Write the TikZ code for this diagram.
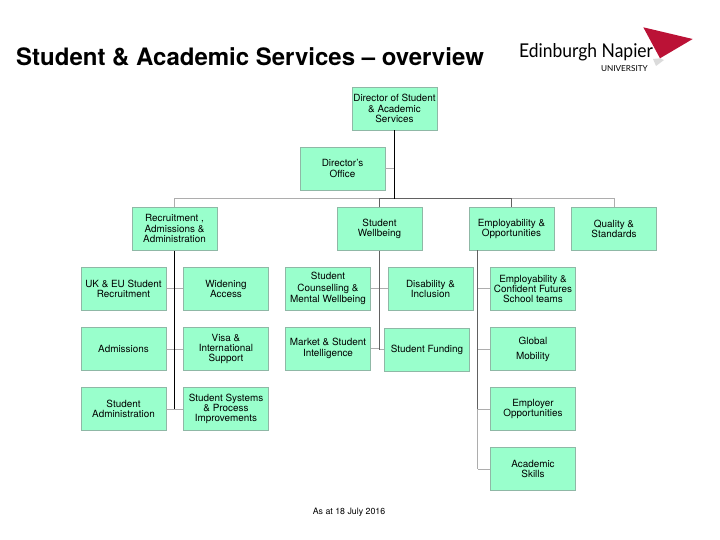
\documentclass[tikz,border=0pt]{standalone}
\usepackage{fontspec}
\setmainfont{TeX Gyre Heros}
\newfontfamily\logofont{Lato}
\definecolor{boxfill}{HTML}{99FFCC}
\definecolor{boxline}{HTML}{8FB8A6}
\definecolor{logored}{HTML}{BB1236}
\tikzset{
  box/.style={draw=boxline,fill=boxfill,line width=.6pt,minimum width=85pt,minimum height=43pt,
    inner sep=0pt,align=center,font=\fontsize{9.9}{10.3}\selectfont},
  thin link/.style={draw=black!32,line width=.8pt},
  mid link/.style={draw=black!62,line width=.8pt},
  dark link/.style={draw=black,line width=.8pt}
}
\begin{document}
\begin{tikzpicture}[x=1pt,y=-1pt]
    \useasboundingbox (0,0) rectangle (720,540);
    \node[anchor=base west,inner sep=0pt,font=\bfseries\fontsize{24}{26}\selectfont] (title) at (16,66) {Student \& Academic Services -- overview};
    % logo
    \node[anchor=base west,inner sep=0pt,xscale=.92,font=\logofont\fontsize{19}{22}\selectfont] (logoname) at (519,57.7) {Edinburgh Napier};
    \node[anchor=base east,inner sep=0pt,font=\logofont\fontsize{8.2}{9}\selectfont] (logouni) at (648,71.5) {UNIVERSITY};
    \fill[black!14] (653,59) -- (660,58.3) -- (664,60) -- (656,66) -- cycle;
    \fill[logored] (643.3,27.3) -- (692.7,39) -- (660,58.3) -- cycle;
    % boxes
    \node[box] (dir) at (394.5,108.5) {Director of Student\\\& Academic\\Services};
    \node[box] (office) at (342.5,168.5) {Director's\\Office};
    \node[box] (rec) at (174.5,228.7) {Recruitment ,\\Admissions \&\\Administration};
    \node[box] (well) at (379.5,228.7) {Student\\Wellbeing};
    \node[box] (emp) at (511.5,228.7) {Employability \&\\Opportunities};
    \node[box] (qual) at (614,228.7) {Quality \&\\Standards};
    \node[box] (ukeu) at (123.5,288.8) {UK \& EU Student\\Recruitment};
    \node[box] (widen) at (226,288.8) {Widening\\Access};
    \node[box] (adm) at (123.5,349) {Admissions};
    \node[box] (visa) at (226,349) {Visa \&\\International\\Support};
    \node[box] (stadm) at (123.5,409) {Student\\Administration};
    \node[box] (sys) at (226,409) {Student Systems\\\& Process\\Improvements};
    \node[box,font=\fontsize{9.9}{11.5}\selectfont] (couns) at (328,288.8) {Student\\Counselling \&\\Mental Wellbeing};
    \node[box] (disab) at (430.5,288.8) {Disability \&\\Inclusion};
    \node[box] (market) at (328,348.5) {Market \& Student\\Intelligence};
    \node[box] (fund) at (427,349.5) {Student Funding};
    \node[box] (teams) at (533,288.8) {Employability \&\\Confident Futures\\School teams};
    \node[box,font=\fontsize{9.9}{15}\selectfont] (glob) at (533,349) {Global\\Mobility};
    \node[box] (oppo) at (533,409) {Employer\\Opportunities};
    \node[box] (skill) at (533,469) {Academic\\Skills};
    \node[font=\fontsize{8.8}{9}\selectfont] (note) at (349,512) {As at 18 July 2016};
    % links
    \coordinate (bar) at (394.5,198.7);
    \coordinate (etrunk) at (477.7,250.2);
    \draw[thin link] (rec.north) |- (bar) -| (qual.north);
    \draw[mid link] (well.north) |- (bar) -| (emp.north);
    \draw[thin link] (office.east) -- (office.east -| dir.south);
    \draw[dark link] (dir.south) -- (bar);
    \foreach \a/\b in {ukeu/widen,adm/visa,stadm/sys,couns/disab}
      \draw[thin link] (\a.east) -- (\b.west);
    \draw[thin link] (market.east) -- (market.east -| well.south) |- (fund.west);
    \foreach \a in {teams,glob,oppo,skill}
      \draw[thin link] (\a.west) -- (\a.west -| etrunk);
    \draw[thin link] (etrunk |- oppo.west) -- (etrunk |- skill.west);
    \draw[mid link] (etrunk) -- (etrunk |- oppo.west);
    \draw[dark link] (rec.south) -- (rec.south |- stadm.east);
    \draw[mid link] (well.south) -- (well.south |- fund.west);
\end{tikzpicture}
\end{document}
